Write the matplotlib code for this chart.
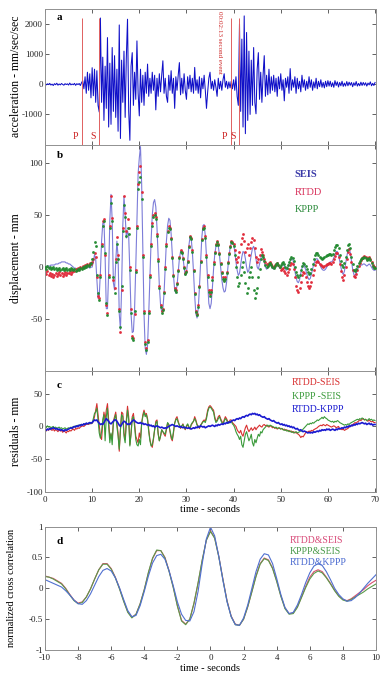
import numpy as np
import matplotlib
matplotlib.use("Agg")
import matplotlib.pyplot as plt

plt.rcParams['font.family'] = ['Liberation Serif', 'DejaVu Serif']
plt.rcParams['axes.unicode_minus'] = False

# --- a: acceleration (mm/sec/sec), sampled every 0.25 s from 0 to 70 s
acc = [10, -20, 15, -10, 30, -25, 5, -40, 20, -15, 35, -30, 10, -20, 25, -5, -30, 20, -10, 15,
       -25, 40, -20, 10, -15, 30, -35, 20, -10, 25, -40, 50,
       120, -150, 250, -300, 400, -200, 350, -450, 550, -380, 500, -600, 450, -700,
       -920, 2200, -600, 900, -1200, 600, -800, 1550, -1420, 700, -1330, 1220, -900, 950,
       -1100, 500, -1560, 1970, -1800, 800, -600, 1100, -1100, 900, 2160, -900, -1860, 600,
       1050, -700, 400, -500, 1440, -300, -1050, 500, -600, 300, -700, 400, -300, 670, -400,
       200, -300, 400, -200, 300, -850, 200, -400, 350, -250, 300, 780, -300, 200, -400, -600,
       300, -200, 450, -300, 200, -800, 250, -200, 300, 720, -350, 200, -300, 350, -200, -500,
       250, -150, 300, -250, 200, -300, 560, -200, 150, -300, 250, -450, 200, -150, 300, -200,
       -800, -250, 200, 400, -150, 100, -200, 150, -100, -400, 200, -150, 100, -200, 150, 350,
       -100, 100, -150, 80, -120, 100,
       -150, 150, -200, 250, -400, -700, 2000, -900, 1500, -1420, 2270, -1640, 1720, -1200,
       1100, -1000, 800, -700, 1220, -600, -980, 500, 1050, -500, 400, -600, 300, 950, -400,
       300, -350, 500, -300, 250,
       -200, 300, -250, 200, -400, 250, -150, 350, -200, 150, -550, 200, -100, 250, -300, 520,
       -200, 150, -100, 250, -300, 200, -150, 100, -250, 300, -100, 150, -200, 100, -150, 250,
       -100, 150, -200, 80, -120, 200, -150, 100, -80, 150, -100, 60, -120, 100, -80, 120,
       -60, 100, -80, 50, -100, 120, -40, 80, -90, 60, -50, 100, -70, 40, -60, 90, -50, 70, -30, 60,
       -80, 50, -40, 90, -60, 30, -50, 70, -40, 60, -30, 50, -60, 40, -20, 80, -50, 30, -40, 60]
p_times = [7.9, 39.5]
s_times = [11.45, 41.2]

# --- b: displacement (mm), every 0.25 s
seis = [0, 0, 1, 1, 1, 2, 2, 2, 2, 3, 3, 3, 4, 4, 5, 5, 5, 5, 4, 4,
        3, 3, 2, 1, 0, -1, -1, -2, -2, -2, -1, -1, 0, 0, -1, -1, 0, 0, -1, 0,
        0, 5, 12, 8, -12, -30, -28, -5, 25, 42, 44, 10, -40, -40, -5, 45, 70, 45, -15, -22,
        5, 25, 10, -45, -60, -20, 40, 68, 50, 28, 35, 30, -5, -45, -63, -62, -40, 0, 45, 90,
        105, 116, 80, 15, -45, -78, -84, -75, -45, -10, 25, 50, 62, 65, 58, 38, 10, -18, -36, -43,
        -40, -25, 0, 25, 40, 47, 45, 32, 12, -8, -22, -25, -18, -5, 8, 15, 16, 10, 0, -8,
        -5, 5, 20, 29, 28, 15, -5, -28, -45, -49, -40, -20, 5, 28, 40, 41, 30, 10, -15, -35,
        -40, -35, -20, -2, 12, 20, 22, 20, 12, 0, -12, -20, -24, -23, -15, -3, 10, 18, 24, 25,
        22, 15, 5, -3, -8, -6, 2, 10, 15, 14, 8, 0, -5, -3, 5, 12, 18, 20, 16, 8,
        0, -2, 3, 8, 12, 10, 5, 0, -2, -1, 2, 3, 1, -1, -2, 0, 2, 3, 1, -1,
        0, 2, 3, 1, -2, -3, 0, 3, 6, 8, 8, 4, -4, -10, -14, -15, -12, -6, -1, 2,
        1, -2, -6, -10, -12, -11, -7, -2, 3, 6, 8, 8, 6, 3, 0, -2, -3, -3, -2, 0,
        2, 4, 5, 5, 6, 9, 12, 15, 15, 12, 6, 0, -5, -7, -4, 3, 10, 16, 18, 14,
        6, -2, -7, -8, -6, -3, 0, 1, 2, 2, 3, 3, 2, 1, 2, 3, 2, 0, -2, -3,
        -3]
rtdd = [-5, -7, -4, -8, -6, -9, -7, -10, -8, -6, -9, -7, -5, -8, -6, -9, -7, -5, -8, -6,
        -6, -4, -7, -5, -3, -4, -2, -3, -1, -2, 0, -1, 1, 0, 2, 1, 3, 2, 4, 3,
        5, 8, 14, 10, -10, -28, -30, -8, 22, 44, 46, 12, -36, -44, -8, 40, 68, 47, -12, -20,
        8, 29, 12, -40, -62, -22, 38, 68, 52, 35, 46, 38, 0, -40, -66, -68, -45, -3, 40, 80,
        92, 97, 72, 12, -42, -72, -78, -70, -42, -8, 22, 42, 50, 52, 48, 32, 8, -18, -36, -42,
        -40, -24, 0, 22, 35, 40, 38, 28, 10, -8, -20, -22, -15, -3, 10, 16, 15, 9, 0, -6,
        -4, 6, 20, 30, 28, 16, -3, -25, -42, -45, -36, -18, 6, 27, 38, 40, 30, 12, -8, -22,
        -26, -22, -10, 5, 15, 22, 25, 22, 14, 4, -5, -10, -12, -10, -5, 5, 14, 20, 25, 24,
        22, 16, 8, 5, 10, 15, 22, 28, 32, 25, 15, 18, 22, 12, 18, 24, 28, 26, 18, 10,
        5, 8, 12, 17, 15, 12, 8, 5, 3, 2, 4, 5, 3, 1, 0, 2, 3, 4, 2, 0,
        -3, -2, -1, -4, -6, -8, -5, -2, 2, 4, 3, -2, -10, -18, -22, -24, -20, -14, -8, -5,
        -6, -10, -14, -18, -20, -18, -14, -8, -3, 2, 5, 6, 5, 3, 2, 1, 0, 1, 2, 3,
        3, 4, 4, 3, 5, 8, 11, 14, 14, 10, 3, -4, -10, -12, -8, 0, 8, 15, 17, 13,
        5, -3, -9, -10, -7, -3, 1, 4, 7, 9, 10, 11, 10, 8, 9, 10, 8, 5, 2, 0,
        0]
kppp = [0, -2, 1, -1, 0, -2, -1, 0, -2, -1, -3, -2, -1, -3, -2, -1, -3, -2, -1, -3,
        -2, -3, -1, -2, -3, -2, -4, -3, -2, -3, -1, -2, 0, -1, 1, 0, 2, 1, 3, 4,
        8, 15, 24, 20, -8, -25, -32, -10, 20, 40, 44, 14, -35, -46, -10, 38, 62, 44, -10, -25,
        5, 22, 8, -42, -58, -18, 35, 60, 48, 30, 38, 32, -3, -44, -68, -70, -42, -5, 38, 75,
        82, 87, 66, 10, -44, -74, -80, -72, -44, -10, 20, 40, 48, 50, 46, 30, 6, -20, -38, -44,
        -41, -25, -2, 20, 34, 38, 37, 27, 9, -9, -22, -24, -16, -4, 9, 15, 14, 8, -1, -7,
        -5, 5, 19, 29, 27, 15, -4, -26, -43, -46, -38, -19, 5, 26, 37, 38, 28, 10, -10, -24,
        -28, -24, -12, 3, 14, 21, 24, 21, 13, 3, -6, -11, -13, -11, -6, 4, 13, 19, 24, 23,
        20, 12, 0, -10, -18, -15, -8, 0, 5, -5, -15, -25, -20, -10, -5, 0, -10, -22, -30, -25,
        -20, -10, -2, 8, 12, 10, 6, 2, 0, 1, 3, 4, 2, 0, -1, 1, 3, 4, 2, 0,
        2, 4, 5, 3, 0, -1, 2, 5, 8, 10, 9, 6, 0, -5, -8, -10, -8, -3, 1, 4,
        3, 1, -2, -5, -7, -6, -2, 3, 8, 12, 14, 14, 12, 10, 9, 8, 9, 10, 11, 12,
        12, 13, 13, 12, 13, 16, 19, 21, 21, 18, 12, 6, 2, 0, 4, 10, 16, 21, 22, 18,
        10, 3, -3, -4, -2, 1, 4, 6, 8, 9, 9, 10, 9, 7, 8, 9, 7, 4, 1, -1,
        -1]

# --- c: residuals (mm), every 0.25 s
rtdd_seis = [-5, -7, -4, -6, -3, -5, -6, -4, -7, -5, -6, -8, -5, -7, -6, -9, -7, -8, -10, -7,
             -8, -6, -7, -5, -4, -6, -3, -4, -2, -3, -1, 0, 1, 0, 2, 3, 4, 3, 5, 4,
             5, 8, 15, 25, 35, 18, 0, -15, -20, 5, 22, 10, 25, 35, 10, -18, -12, -20, 8, 15,
             22, 5, -10, -38, -5, 22, 20, -10, -20, 10, 31, 15, -28, -10, 15, 20, 5, -15, -20, -25,
             -10, -18, 5, 18, 25, 18, 20, 12, -5, -20, -28, -32, -20, -5, 8, 10, -10, -22, -15, -5,
             -8, -12, -15, -5, 5, 3, -8, -18, -22, -10, 5, 12, 15, 8, 2, -3, 0, 4, -2, -5,
             0, 3, -2, -4, 2, 5, 8, 15, 10, 3, 0, -3, 2, 5, 8, 10, 8, 15, 25, 30,
             32, 30, 27, 25, 15, 8, 10, 15, 17, 12, 8, 5, 10, 15, 12, 8, 6, 10, 10, 6,
             4, 2, 0, -5, -8, -10, -6, -12, -15, -8, -2, 2, -4, -8, -5, -2, -6, -4, -1, -5,
             -2, 0, 2, 0, -1, 2, 3, 1, 2, 0, -1, 1, 0, -2, -1, -3, -2, -4, -3, -2,
             -4, -3, -5, -4, -6, -5, -7, -6, -8, -7, -9, -8, -10, -9, -11, -12, -14, -17, -15, -16,
             -13, -10, -8, -9, -7, -8, -6, -7, -5, -4, -3, -2, 0, 1, 2, 1, 3, 2, 1, 3,
             2, 1, 0, -1, 0, 1, 0, -2, -1, 0, -3, -4, -5, -4, -6, -5, -4, -3, -1, 0,
             1, 3, 4, 6, 5, 7, 8, 10, 9, 11, 12, 10, 11, 9, 8, 10, 8, 7, 8, 6,
             6]
kppp_seis = [0, -2, 1, -1, 0, -2, -1, 0, -2, -1, -3, -2, -1, -3, -2, -4, -3, -2, -4, -3,
             -2, -3, -1, -2, 0, -1, 1, 0, 2, 1, 3, 2, 3, 4, 3, 5, 4, 5, 4, 6,
             5, 12, 20, 22, 28, 10, -10, -18, -8, 10, 18, -22, 15, 28, 0, -25, -10, -28, 5, 12,
             18, 0, -15, -35, -5, 18, 15, -15, -25, 5, 25, 10, -30, -12, 12, 15, 0, -20, -28, -30,
             -20, -28, 5, 15, 22, 15, 18, 10, -8, -22, -30, -28, -18, -5, 5, 8, -12, -22, -15, -5,
             -8, -10, -12, -3, 6, 3, -6, -15, -20, -8, 5, 10, 12, 6, 2, -2, 1, 3, -1, -4,
             1, 4, 0, -3, 3, 6, 8, 12, 8, 2, 0, -2, 2, 4, 7, 8, 6, 12, 22, 28,
             30, 28, 25, 22, 12, 6, 8, 12, 15, 10, 6, 4, 8, 12, 10, 6, 5, 8, 8, 4,
             2, -2, -8, -12, -15, -20, -15, -28, -32, -22, -12, -8, -15, -22, -18, -12, -25, -30, -20, -25,
             -18, -12, -15, -8, -10, -5, -3, -1, 1, 2, 0, 2, 1, 0, -1, -2, -1, -3, -2, -3,
             -4, -3, -5, -6, -5, -7, -6, -8, -7, -9, -8, -10, -9, -8, -10, -9, -8, -7, -6, -4,
             -2, 0, 2, 4, 3, 5, 4, 6, 5, 7, 8, 10, 9, 11, 12, 14, 12, 15, 13, 12,
             10, 9, 8, 7, 8, 6, 8, 7, 9, 8, 6, 5, 4, 3, 2, 3, 2, 4, 3, 5,
             6, 7, 8, 9, 10, 11, 10, 12, 11, 13, 12, 10, 11, 9, 10, 12, 10, 11, 9, 10,
             9]
rtdd_kppp = [-5, -6, -4, -5, -3, -4, -3, -2, -3, -4, -3, -5, -4, -6, -5, -6, -7, -5, -6, -5,
             -4, -3, -2, -3, -1, 0, -1, 1, 0, 2, 1, 3, 2, 4, 3, 5, 4, 5, 6, 5,
             6, 8, 10, 9, 10, 7, 5, 3, 4, 3, 6, 9, 12, 10, 8, 5, 4, 6, 8, 10,
             10, 8, 5, 2, 0, 3, 6, 8, 7, 5, 3, 4, 3, 6, 8, 10, 9, 7, 6, 5,
             5, 6, 4, 5, 3, 4, 3, 2, 3, 1, 2, 0, 1, -1, 0, 1, 0, -1, -2, -1,
             -2, -3, -2, -3, -1, 0, 1, 2, 3, 2, 1, 0, 1, 0, -1, 0, -1, -2, -1, -2,
             -2, -3, -2, -3, -4, -3, -2, -3, -1, -2, 0, -1, 1, 0, -1, 0, -2, -1, 0, 1,
             0, 1, 2, 1, 0, 2, 1, 3, 2, 3, 4, 3, 5, 4, 6, 5, 7, 6, 8, 9,
             10, 9, 11, 12, 11, 13, 12, 14, 15, 14, 16, 17, 16, 18, 19, 18, 20, 19, 20, 18,
             19, 17, 18, 16, 15, 14, 15, 13, 12, 11, 12, 10, 9, 8, 9, 7, 6, 5, 6, 4,
             3, 4, 2, 3, 1, 2, 0, 1, -1, 0, -2, -1, -3, -4, -3, -5, -6, -5, -7, -8,
             -7, -8, -9, -10, -9, -10, -9, -10, -8, -9, -8, -7, -8, -6, -7, -5, -6, -5, -6, -4,
             -5, -4, -6, -5, -4, -5, -6, -4, -5, -3, -4, -3, -2, -3, -1, -2, 0, -1, 1, 0,
             2, 1, 3, 2, 4, 3, 5, 4, 5, 6, 5, 4, 5, 3, 4, 5, 3, 4, 2, 3,
             3]

# --- d: normalized cross correlation, lag every 0.25 s from -10 to 10
cc_rtdd_seis = [.20, .18, .16, .12, .08, .0, -.10, -.19, -.24, -.22, -.14, -.01, .15, .30, .40, .40, .32, .18, .0, -.20,
                -.38, -.47, -.42, -.25, -.02, .25, .48, .61, .61, .50, .28, .02, -.28, -.52, -.58, -.50, -.25, .08, .45, .78,
                .93, .82, .52, .15, -.20, -.45, -.58, -.60, -.50, -.30, -.05, .20, .40, .49, .46, .33, .12, -.12, -.32, -.41,
                -.40, -.30, -.14, .03, .18, .27, .30, .27, .18, .08, -.03, -.12, -.18, -.20, -.17, -.12, -.07, -.02, .04, .09,
                .13]
cc_kppp_seis = [.19, .18, .15, .11, .07, -.01, -.11, -.20, -.25, -.23, -.14, -.01, .15, .30, .39, .39, .31, .17, -.01, -.21,
                -.39, -.48, -.42, -.25, -.02, .26, .49, .62, .61, .49, .27, .01, -.29, -.53, -.59, -.50, -.24, .09, .46, .78,
                .92, .81, .51, .14, -.21, -.46, -.59, -.60, -.50, -.30, -.06, .19, .39, .48, .45, .32, .11, -.13, -.33, -.42,
                -.41, -.31, -.15, .01, .15, .24, .28, .25, .17, .07, -.04, -.13, -.19, -.21, -.18, -.14, -.10, -.06, -.01, .03,
                .07]
cc_rtdd_kppp = [.14, .11, .08, .05, .02, -.04, -.11, -.19, -.25, -.26, -.20, -.09, .05, .19, .29, .32, .28, .17, .01, -.18,
                -.36, -.46, -.44, -.28, -.05, .20, .41, .53, .55, .47, .28, .04, -.22, -.42, -.52, -.53, -.38, -.05, .40, .80,
                .99, .85, .52, .13, -.22, -.46, -.59, -.60, -.48, -.27, .0, .27, .47, .56, .54, .40, .16, -.10, -.31, -.41,
                -.39, -.27, -.10, .09, .25, .36, .40, .37, .27, .14, .0, -.10, -.17, -.21, -.20, -.15, -.08, .0, .08, .15,
                .22]

t_acc = np.linspace(0, 70, len(acc))
t = np.linspace(0, 70, len(seis))
lag = np.linspace(-10, 10, len(cc_rtdd_seis))

fig = plt.figure(figsize=(3.83, 6.81), dpi=100)
L, W = 0.1175, 0.8642
ax_a = fig.add_axes([L, 0.7878, W, 0.1990])
ax_b = fig.add_axes([L, 0.4552, W, 0.3326])
ax_c = fig.add_axes([L, 0.2780, W, 0.1772])
ax_d = fig.add_axes([L, 0.0455, W, 0.1813])

def style(ax):
    ax.tick_params(direction='in', top=True, right=True, length=3, width=0.5,
                   labelsize=6.5, pad=1.5, colors='#222222')
    ax.tick_params(axis='x', pad=3)
    for s in ax.spines.values():
        s.set_color('#909090')
        s.set_linewidth(0.7)

# a
ax_a.plot(t_acc, acc, color='#1010c8', lw=0.75)
ax_a.vlines(p_times + s_times, -2000, 2200, color='#e06060', lw=0.7)
for x in p_times:
    ax_a.text(x - 1.4, -1750, 'P', color='#cc2222', fontsize=7, ha='center', va='center')
for x in s_times:
    ax_a.text(x - 1.3, -1750, 'S', color='#cc2222', fontsize=7, ha='center', va='center')
ax_a.text(37.1, 1400, '00:02:13 second event', rotation=270, color='#cc2222',
          fontsize=5, ha='center', va='center')
ax_a.set_xlim(0, 70.2)
ax_a.set_ylim(-2000, 2500)
ax_a.set_yticks([-1000, 0, 1000, 2000])
ax_a.set_xticks(range(0, 71, 10))
ax_a.set_xticklabels([])
ax_a.set_ylabel('acceleration - mm/sec/sec', fontsize=8.5)
ax_a.text(0.035, 0.92, 'a', transform=ax_a.transAxes, fontsize=8, fontweight='bold')

# b
ax_b.plot(t, seis, color='#7c7cd8', lw=0.8, zorder=1)
ax_b.plot(t, rtdd, '.', color='#e02838', ms=2.2, alpha=0.85, zorder=2)
ax_b.plot(t, kppp, '.', color='#228a30', ms=2.2, alpha=0.85, zorder=3)
ax_b.set_xlim(0, 70.2)
ax_b.set_ylim(-100, 118)
ax_b.set_yticks([-50, 0, 50, 100])
ax_b.set_xticks(range(0, 71, 10))
ax_b.set_xticklabels([])
ax_b.set_ylabel('displacement - mm', fontsize=8.5)
ax_b.text(0.035, 0.94, 'b', transform=ax_b.transAxes, fontsize=8, fontweight='bold')
ax_b.text(0.755, 0.855, 'SEIS', transform=ax_b.transAxes, color='#3a3aa8', fontsize=7.5, fontweight='bold')
ax_b.text(0.755, 0.778, 'RTDD', transform=ax_b.transAxes, color='#d8305a', fontsize=7.5)
ax_b.text(0.755, 0.700, 'KPPP', transform=ax_b.transAxes, color='#2a8a3a', fontsize=7.5)

# c
ax_c.plot(t, rtdd_seis, color='#d83030', lw=0.8)
ax_c.plot(t, kppp_seis, color='#3a9a3a', lw=0.8)
ax_c.plot(t, rtdd_kppp, color='#1a1ad0', lw=1.2)
ax_c.set_xlim(0, 70.2)
ax_c.set_ylim(-100, 85)
ax_c.set_yticks([-100, -50, 0, 50])
ax_c.set_xticks(range(0, 71, 10))
ax_c.set_xlabel('time - seconds', fontsize=7.5, labelpad=1)
ax_c.set_ylabel('residuals - mm', fontsize=8.5)
ax_c.text(0.035, 0.86, 'c', transform=ax_c.transAxes, fontsize=8, fontweight='bold')
ax_c.text(0.745, 0.88, 'RTDD-SEIS', transform=ax_c.transAxes, color='#d83030', fontsize=7)
ax_c.text(0.745, 0.77, 'KPPP -SEIS', transform=ax_c.transAxes, color='#3a9a3a', fontsize=7)
ax_c.text(0.745, 0.66, 'RTDD-KPPP', transform=ax_c.transAxes, color='#1a1ad0', fontsize=7)

# d
ax_d.plot(lag, cc_rtdd_seis, color='#d85070', lw=0.8)
ax_d.plot(lag, cc_kppp_seis, color='#5a9a4a', lw=0.8)
ax_d.plot(lag, cc_rtdd_kppp, color='#5070d0', lw=0.8)
ax_d.set_xlim(-10, 10)
ax_d.set_ylim(-1, 1)
ax_d.set_yticks([-1, -0.5, 0, 0.5, 1])
ax_d.set_yticklabels(['-1', '-0.5', '0', '0.5', '1'])
ax_d.set_xticks(range(-10, 11, 2))
ax_d.set_xlabel('time - seconds', fontsize=7.5, labelpad=1)
ax_d.set_ylabel('normalized cross correlation', fontsize=7.5)
ax_d.text(0.035, 0.86, 'd', transform=ax_d.transAxes, fontsize=8, fontweight='bold')
ax_d.text(0.74, 0.87, 'RTDD&SEIS', transform=ax_d.transAxes, color='#d84a78', fontsize=7)
ax_d.text(0.74, 0.78, 'KPPP&SEIS', transform=ax_d.transAxes, color='#4a9a4a', fontsize=7)
ax_d.text(0.74, 0.69, 'RTDD&KPPP', transform=ax_d.transAxes, color='#4a6ad0', fontsize=7)

for ax in (ax_a, ax_b, ax_c, ax_d):
    style(ax)
ax_a.yaxis.set_label_coords(-0.068, 0.5)
ax_b.yaxis.set_label_coords(-0.068, 0.5)
ax_c.yaxis.set_label_coords(-0.068, 0.5)
ax_d.yaxis.set_label_coords(-0.088, 0.5)

fig.savefig('out.png', dpi=100)
